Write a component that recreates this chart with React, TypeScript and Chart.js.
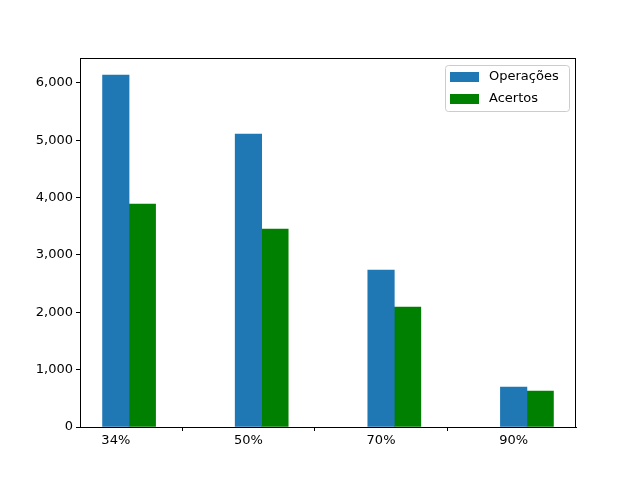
import React, { useEffect, useRef } from "react";
import { Chart, registerables } from "chart.js";
Chart.register(...registerables);

const categories = ["34%", "50%", "70%", "90%"];
const operacoes = [6140, 5110, 2738, 698];
const acertos = [3890, 3454, 2093, 628];
const seriesNames = ["Operações", "Acertos"];
const colors = ["#1f77b4", "green"];
const FONT = "DejaVu Sans";

const framePlugin = {
  id: "frame",
  afterDraw(chart: any) {
    const { ctx, chartArea: a } = chart;
    ctx.save();
    ctx.strokeStyle = "#000";
    ctx.lineWidth = 1;
    ctx.strokeRect(a.left + 0.5, a.top + 0.5, a.right - a.left - 1, a.bottom - a.top);
    // legend
    const bx = a.right - 131, by = a.top + 7, bw = 124, bh = 46;
    ctx.fillStyle = "rgba(255,255,255,0.8)";
    ctx.strokeStyle = "#ccc";
    ctx.beginPath();
    ctx.roundRect(bx + 0.5, by + 0.5, bw, bh, 3);
    ctx.fill();
    ctx.stroke();
    ctx.font = `13px '${FONT}'`;
    ctx.textBaseline = "middle";
    seriesNames.forEach((n, i) => {
      const y = by + 7 + i * 22;
      ctx.fillStyle = colors[i];
      ctx.fillRect(bx + 5, y, 29, 10);
      ctx.fillStyle = "#000";
      ctx.fillText(n, bx + 44, y + 5);
    });
    ctx.restore();
  },
};

export default function App() {
  const ref = useRef<HTMLCanvasElement>(null);
  useEffect(() => {
    document.body.style.margin = "0";
    const mk = (vals: number[], off: number) => vals.map((v, i) => ({ x: i + off, y: v }));
    const chart = new Chart(ref.current!, {
      type: "bar",
      data: {
        datasets: [
          { label: seriesNames[0], data: mk(operacoes, 0), backgroundColor: colors[0], barThickness: 26.5, grouped: false } as any,
          { label: seriesNames[1], data: mk(acertos, 0.2), backgroundColor: colors[1], barThickness: 26.5, grouped: false } as any,
        ],
      },
      options: {
        animation: false,
        responsive: false,
        layout: { padding: { top: 58, right: 64, left: 0, bottom: 0 } },
        plugins: { legend: { display: false }, tooltip: { enabled: false } },
        scales: {
          x: {
            type: "linear",
            min: -0.27,
            max: 3.47,
            offset: false,
            afterBuildTicks: (ax: any) => { ax.ticks = categories.map((_, i) => ({ value: i })); },
            afterFit: (ax: any) => { ax.height = 53; },
            ticks: { callback: (v: any) => categories[v] ?? "", color: "#000", font: { family: FONT, size: 13 }, maxRotation: 0, padding: 2 },
            grid: { drawOnChartArea: false, drawTicks: true, tickLength: 4, color: "#000" },
            border: { color: "#000" },
          },
          y: {
            min: 0,
            max: 6436,
            afterBuildTicks: (ax: any) => { ax.ticks = [0, 1000, 2000, 3000, 4000, 5000, 6000].map((v) => ({ value: v })); },
            afterFit: (ax: any) => { ax.width = 80; },
            ticks: { color: "#000", font: { family: FONT, size: 13 }, padding: 3 },
            grid: { drawOnChartArea: false, drawTicks: true, tickLength: 4, color: "#000" },
            border: { color: "#000" },
          },
        },
      },
      plugins: [framePlugin],
    } as any);
    return () => chart.destroy();
  }, []);
  return <canvas ref={ref} width={640} height={480} style={{ display: "block" }} />;
}
